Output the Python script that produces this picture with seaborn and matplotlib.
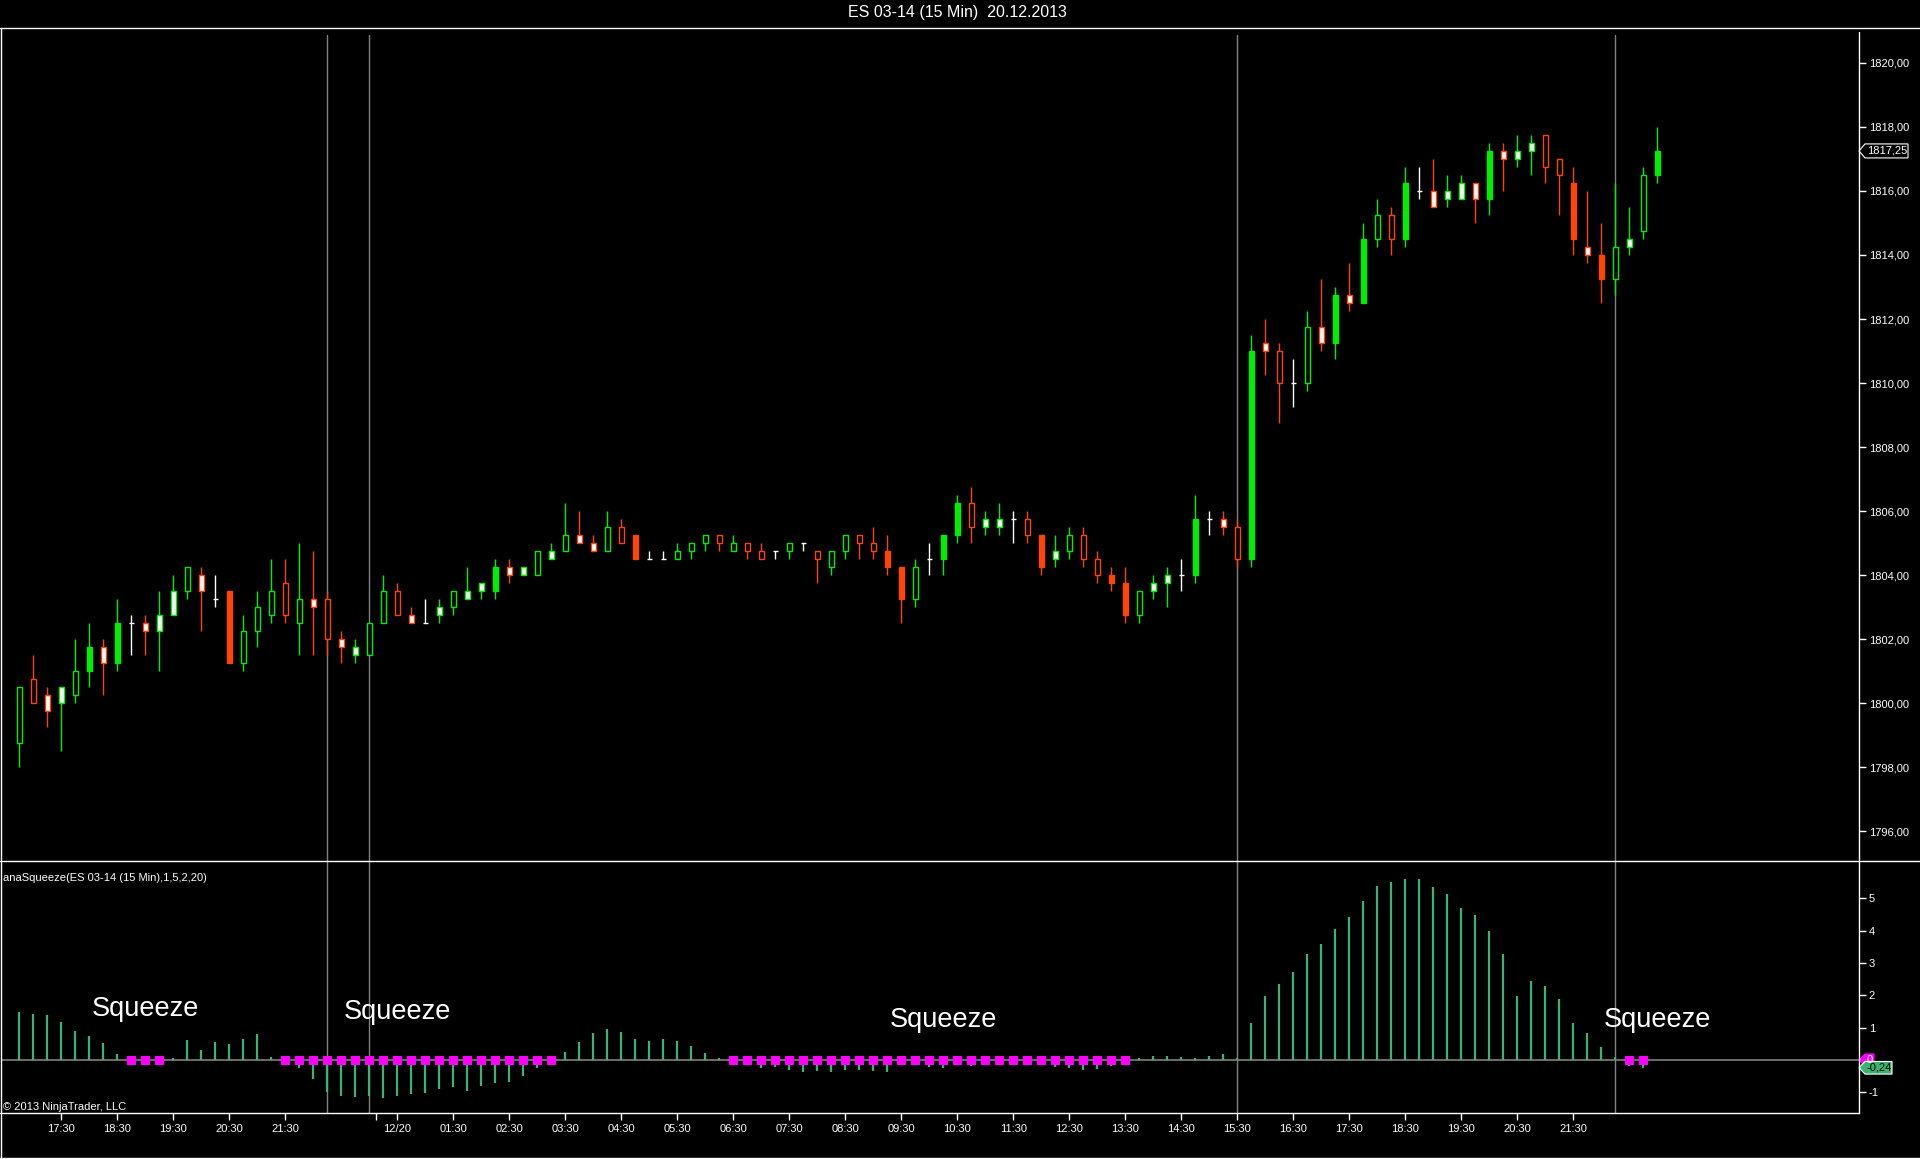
import matplotlib
matplotlib.use("Agg")
import matplotlib.pyplot as plt
from matplotlib.lines import Line2D
from matplotlib.patches import Polygon
from matplotlib.ticker import FuncFormatter
import numpy as np
import seaborn as sns

sns.set_theme(style="dark", rc={"axes.facecolor": "black", "figure.facecolor": "black"})
plt.rcParams["font.family"] = ["Liberation Sans", "DejaVu Sans"]

# --- ES 03-14 15 min bars ---
opens = [1798.75, 1800.75, 1800.25, 1800.0, 1800.25, 1801.0, 1801.75, 1801.25, 1802.5, 1802.5,
         1802.25, 1802.75, 1803.5, 1804.0, 1803.25, 1803.5, 1801.25, 1802.25, 1802.75, 1803.75,
         1802.5, 1803.25, 1803.25, 1802.0, 1801.5, 1801.5, 1802.5, 1803.5, 1802.75, 1802.5,
         1802.75, 1803.0, 1803.25, 1803.5, 1803.5, 1804.25, 1804.0, 1804.0, 1804.5, 1804.75,
         1805.25, 1805.0, 1804.75, 1805.5, 1805.25, 1804.5, 1804.5, 1804.5, 1804.75, 1805.0,
         1805.25, 1804.75, 1805.0, 1804.75, 1804.75, 1804.75, 1805.0, 1804.75, 1804.25, 1804.75,
         1805.25, 1805.0, 1804.75, 1804.25, 1803.25, 1804.5, 1804.5, 1805.25, 1806.25, 1805.5,
         1805.5, 1805.75, 1805.75, 1805.25, 1804.5, 1804.75, 1805.25, 1804.5, 1804.0, 1803.75,
         1802.75, 1803.5, 1803.75, 1804.0, 1804.0, 1805.75, 1805.75, 1805.5, 1804.5, 1811.25,
         1811.0, 1810.0, 1810.0, 1811.75, 1811.25, 1812.75, 1812.5, 1814.5, 1815.25, 1814.5,
         1816.0, 1816.0, 1815.75, 1815.75, 1816.25, 1815.75, 1817.25, 1817.0, 1817.25, 1817.75,
         1817.0, 1816.25, 1814.25, 1814.0, 1813.25, 1814.25, 1814.75, 1816.5]
highs = [1800.5, 1801.5, 1800.5, 1800.5, 1802.0, 1802.5, 1802.0, 1803.25, 1802.75, 1802.75,
         1803.5, 1804.0, 1804.25, 1804.25, 1804.0, 1803.5, 1802.75, 1803.5, 1804.5, 1804.5,
         1805.0, 1804.75, 1803.5, 1802.25, 1802.0, 1802.5, 1804.0, 1803.75, 1803.0, 1803.25,
         1803.25, 1803.5, 1804.25, 1803.75, 1804.5, 1804.5, 1804.25, 1804.75, 1805.0, 1806.25,
         1806.0, 1805.25, 1806.0, 1805.75, 1805.25, 1804.75, 1804.75, 1805.0, 1805.0, 1805.25,
         1805.25, 1805.25, 1805.0, 1805.0, 1804.75, 1805.0, 1805.0, 1804.75, 1804.75, 1805.25,
         1805.25, 1805.5, 1805.25, 1804.25, 1804.5, 1805.0, 1805.25, 1806.5, 1806.75, 1806.0,
         1806.25, 1806.0, 1806.0, 1805.25, 1805.25, 1805.5, 1805.5, 1804.75, 1804.25, 1804.25,
         1803.5, 1804.0, 1804.25, 1804.5, 1806.5, 1806.0, 1806.0, 1805.75, 1811.5, 1812.0,
         1811.25, 1810.75, 1812.25, 1813.25, 1813.0, 1813.75, 1815.0, 1815.75, 1815.5, 1816.75,
         1816.75, 1817.0, 1816.5, 1816.5, 1816.25, 1817.5, 1817.5, 1817.75, 1817.75, 1817.75,
         1817.0, 1816.75, 1816.0, 1815.0, 1816.25, 1815.5, 1816.75, 1818.0]
lows = [1798.0, 1800.0, 1799.25, 1798.5, 1800.0, 1800.5, 1800.25, 1801.0, 1801.5, 1801.5,
        1801.0, 1802.75, 1803.25, 1802.25, 1803.0, 1801.25, 1801.0, 1801.75, 1802.5, 1802.5,
        1801.5, 1801.5, 1801.5, 1801.25, 1801.25, 1801.5, 1802.5, 1802.75, 1802.5, 1802.5,
        1802.5, 1802.75, 1803.25, 1803.25, 1803.25, 1803.75, 1804.0, 1804.0, 1804.5, 1804.75,
        1805.0, 1804.75, 1804.75, 1805.0, 1804.5, 1804.5, 1804.5, 1804.5, 1804.5, 1804.75,
        1804.75, 1804.75, 1804.5, 1804.5, 1804.5, 1804.5, 1804.75, 1803.75, 1804.0, 1804.5,
        1804.5, 1804.5, 1804.0, 1802.5, 1803.0, 1804.0, 1804.0, 1805.0, 1805.0, 1805.25,
        1805.25, 1805.0, 1805.0, 1804.0, 1804.25, 1804.5, 1804.25, 1803.75, 1803.5, 1802.5,
        1802.5, 1803.25, 1803.0, 1803.5, 1803.75, 1805.25, 1805.25, 1804.25, 1804.25, 1810.25,
        1808.75, 1809.25, 1809.75, 1811.0, 1810.75, 1812.25, 1812.5, 1814.25, 1814.0, 1814.25,
        1815.75, 1815.5, 1815.5, 1815.75, 1815.0, 1815.25, 1816.0, 1816.75, 1816.5, 1816.25,
        1815.25, 1814.0, 1813.75, 1812.5, 1812.75, 1814.0, 1814.5, 1816.25]
closes = [1800.5, 1800.0, 1799.75, 1800.5, 1801.0, 1801.75, 1801.25, 1802.5, 1802.5, 1802.25,
          1802.75, 1803.5, 1804.25, 1803.5, 1803.25, 1801.25, 1802.25, 1803.0, 1803.5, 1802.75,
          1803.25, 1803.0, 1802.0, 1801.75, 1801.75, 1802.5, 1803.5, 1802.75, 1802.5, 1802.5,
          1803.0, 1803.5, 1803.5, 1803.75, 1804.25, 1804.0, 1804.25, 1804.75, 1804.75, 1805.25,
          1805.0, 1804.75, 1805.5, 1805.0, 1804.5, 1804.5, 1804.5, 1804.75, 1805.0, 1805.25,
          1805.0, 1805.0, 1804.75, 1804.5, 1804.75, 1805.0, 1805.0, 1804.5, 1804.75, 1805.25,
          1805.0, 1804.75, 1804.25, 1803.25, 1804.25, 1804.5, 1805.25, 1806.25, 1805.5, 1805.75,
          1805.75, 1805.75, 1805.25, 1804.25, 1804.75, 1805.25, 1804.5, 1804.0, 1803.75, 1802.75,
          1803.5, 1803.75, 1804.0, 1804.0, 1805.75, 1805.75, 1805.5, 1804.5, 1811.0, 1811.0,
          1810.0, 1810.0, 1811.75, 1811.25, 1812.75, 1812.5, 1814.5, 1815.25, 1814.5, 1816.25,
          1816.0, 1815.5, 1816.0, 1816.25, 1815.75, 1817.25, 1817.0, 1817.25, 1817.5, 1816.75,
          1816.5, 1814.5, 1814.0, 1813.25, 1814.25, 1814.5, 1816.5, 1817.25]
# body fill per bar: h = hollow, w = white, s = solid (10 bars per chunk)
fills = list("hhwwhswshw" "wwhwhshhhh" "hwhwwhhhwh" "whwwswwhwh" "wwhhshhhhh"
             "hhhhhhhhhh" "hhsshhsshw" "whhswhhhss" "hwwhshwhsw" "hhhwswshhs"
             "hwwwwswwwh" "hswshwhs")

# --- anaSqueeze histogram (last bar not yet calculated) ---
squeeze = [1.48, 1.42, 1.38, 1.17, 0.89, 0.74, 0.52, 0.18, 0.0, 0.0,
           0.0, 0.06, 0.62, 0.31, 0.55, 0.49, 0.65, 0.80, 0.09, 0.0,
           -0.25, -0.58, -0.98, -1.11, -1.14, -1.11, -1.17, -1.11, -1.05, -1.02,
           -0.89, -0.83, -0.95, -0.80, -0.71, -0.68, -0.49, -0.25, 0.0, 0.25,
           0.56, 0.84, 0.96, 0.87, 0.65, 0.59, 0.65, 0.59, 0.43, 0.22,
           0.06, 0.0, -0.02, -0.25, -0.22, -0.31, -0.37, -0.34, -0.37, -0.31,
           -0.31, -0.34, -0.37, -0.05, -0.15, -0.22, -0.25, -0.05, -0.19, 0.0,
           0.0, 0.0, 0.0, -0.12, -0.22, -0.25, -0.31, -0.28, -0.19, 0.0,
           0.06, 0.12, 0.12, 0.09, 0.06, 0.12, 0.19, 0.06, 1.14, 1.98,
           2.35, 2.72, 3.28, 3.59, 4.05, 4.42, 4.92, 5.38, 5.51, 5.60,
           5.60, 5.35, 5.13, 4.70, 4.48, 3.99, 3.28, 1.98, 2.44, 2.29,
           1.89, 1.14, 0.84, 0.40, 0.09, -0.20, -0.24]
squeeze_on = [0, 0, 0, 0, 0, 0, 0, 0, 1, 1, 1, 0, 0, 0, 0, 0, 0, 0, 0, 1,
              1, 1, 1, 1, 1, 1, 1, 1, 1, 1, 1, 1, 1, 1, 1, 1, 1, 1, 1, 0,
              0, 0, 0, 0, 0, 0, 0, 0, 0, 0, 0, 1, 1, 1, 1, 1, 1, 1, 1, 1,
              1, 1, 1, 1, 1, 1, 1, 1, 1, 1, 1, 1, 1, 1, 1, 1, 1, 1, 1, 1,
              0, 0, 0, 0, 0, 0, 0, 0, 0, 0, 0, 0, 0, 0, 0, 0, 0, 0, 0, 0,
              0, 0, 0, 0, 0, 0, 0, 0, 0, 0, 0, 0, 0, 0, 0, 1, 1]

# session lines, squeeze notes and time axis
session_bars = [22, 25, 87, 114]
note_bars = [9, 27, 66, 117]
note_levels = [1.57, 1.48, 1.23, 1.23]
tick_pos = [3, 7, 11, 15, 19, 27, 31, 35, 39, 43, 47, 51, 55, 59, 63, 67, 71, 75, 79,
            83, 87, 91, 95, 99, 103, 107, 111]
tick_labels = ["17:30", "18:30", "19:30", "20:30", "21:30", "12/20", "01:30", "02:30",
               "03:30", "04:30", "05:30", "06:30", "07:30", "08:30", "09:30", "10:30",
               "11:30", "12:30", "13:30", "14:30", "15:30", "16:30", "17:30", "18:30",
               "19:30", "20:30", "21:30"]
day_break = 25.5
price_ticks = list(range(1796, 1821, 2))
osc_ticks = [-1, 1, 2, 3, 4, 5]

GREEN = "#00ee00"
ORANGE = "#ff4500"
HIST = "#3cb371"
MAGENTA = "#ff00ff"
GREY = "#808080"

W, H = 1920, 1159
fig = plt.figure(figsize=(W / 100, H / 100), dpi=100)


def rect(x0, y0, x1, y1):
    return [x0 / W, 1 - y1 / H, (x1 - x0) / W, (y1 - y0) / H]


ax = fig.add_axes(rect(1, 28, 1859, 861))
ax2 = fig.add_axes(rect(1, 861, 1859, 1113), sharex=ax)
for a in (ax, ax2):
    a.set_facecolor("black")
    for s in a.spines.values():
        s.set_visible(False)
    a.grid(False)

x = np.arange(len(opens))
o = np.array(opens)
c = np.array(closes)
up = c > o
doji = c == o
edge = np.where(doji, "white", np.where(up, GREEN, ORANGE))

# wicks
ax.vlines(x, lows, highs, colors=edge, lw=1.0, zorder=2)
# bodies
body_face = []
for i in range(len(x)):
    if fills[i] == "w":
        body_face.append("white")
    elif fills[i] == "s":
        body_face.append(edge[i])
    else:
        body_face.append("black")
m = ~doji
ax.bar(x[m], np.abs(c - o)[m], bottom=np.minimum(o, c)[m], width=0.34,
       color=np.array(body_face)[m], edgecolor=edge[m], linewidth=1.0, zorder=3)
ax.hlines(c[doji], x[doji] - 0.2, x[doji] + 0.2, colors="white", lw=1.0, zorder=3)

ax.set_xlim(-1.31, 131.4)
ax.set_ylim(1795.07, 1821.09)
ax.set_yticks(price_ticks)
ax.yaxis.set_major_formatter(FuncFormatter(lambda v, p: f"{v:.2f}".replace(".", ",")))
ax.tick_params(axis="y", which="both", left=False, right=True, labelleft=False, labelright=True,
               colors="white", length=5, width=1, labelsize=8, pad=2)
ax.tick_params(axis="x", bottom=False, labelbottom=False)

for b in session_bars:
    ax.axvline(b, ymin=0, ymax=0.9916, color=GREY, lw=1.0, zorder=1)
    ax2.axvline(b, color=GREY, lw=1.0, zorder=1)

# oscillator panel
xs = np.arange(len(squeeze))
ax2.axhline(0, color=GREY, lw=1.2, zorder=1)
ax2.vlines(xs, 0, squeeze, colors=HIST, lw=1.6, zorder=2)
on = np.array(squeeze_on) == 1
sns.scatterplot(x=xs[on], y=np.zeros(on.sum()), ax=ax2, marker="s", s=26, color=MAGENTA,
                edgecolor=MAGENTA, linewidth=0.8, zorder=4, legend=False)
ax2.set_ylim(-1.64, 6.16)
ax2.set_yticks(osc_ticks)
ax2.set_yticklabels([str(t) for t in osc_ticks])
ax2.tick_params(axis="y", left=False, right=True, labelleft=False, labelright=True,
                colors="white", length=5, width=1, labelsize=8, pad=2)
ax2.set_xticks(tick_pos)
ax2.set_xticklabels(tick_labels)
ax2.set_xticks([day_break], minor=True)
ax2.tick_params(axis="x", which="both", bottom=True, colors="white", length=5, width=1,
                labelsize=8, pad=3)
ax2.set_xlabel("")
ax2.set_ylabel("")

for xb, lv in zip(note_bars, note_levels):
    ax2.text(xb, lv, "Squeeze", color="white", fontsize=19.5, ha="center", va="center", zorder=6)

ax2.text(2 / 1858, 0.933, "anaSqueeze(ES 03-14 (15 Min),1,5,2,20)", transform=ax2.transAxes,
         color="white", fontsize=8, ha="left", va="center")
ax2.text(2 / 1858, 0.024, "\u00a9 2013 NinjaTrader, LLC", transform=ax2.transAxes,
         color="white", fontsize=8, ha="left", va="center")


def tag(a, y, text, face, edgec, tcolor, width_px, half_px):
    lo, hi = a.get_ylim()
    ppu = a.get_window_extent().height / (hi - lo)
    wx = 1.0 / a.get_window_extent().width
    h = half_px / ppu
    pts = [(1.0, y), (1 + 6 * wx, y + h), (1 + width_px * wx, y + h),
           (1 + width_px * wx, y - h), (1 + 6 * wx, y - h)]
    a.add_patch(Polygon(pts, closed=True, transform=a.get_yaxis_transform(), facecolor=face,
                        edgecolor=edgec, lw=0.8, clip_on=False, zorder=7))
    a.text(1 + 8 * wx, y, text, transform=a.get_yaxis_transform(), color=tcolor, fontsize=8,
           ha="left", va="center", clip_on=False, zorder=8)


fig.canvas.draw()
tag(ax, closes[-1], f"{closes[-1]:.2f}".replace(".", ","), "black", "white", "white", 49, 7)
tag(ax2, 0, "0", MAGENTA, MAGENTA, "white", 15, 6)
tag(ax2, squeeze[-1], f"{squeeze[-1]:.2f}".replace(".", ","), HIST, "white", "black", 33, 6.3)


# frame lines
def fline(x0, y0, x1, y1):
    fig.add_artist(Line2D([x0 / W, x1 / W], [1 - y0 / H, 1 - y1 / H], transform=fig.transFigure,
                          color="white", lw=1.0))


fline(0, 28, W, 28)
fline(0, 861, W, 861)
fline(0, 1113, 1859, 1113)
fline(1859, 32, 1859, 1113)
fline(1, 28, 1, 1158)
fline(0, 1157.5, W, 1157.5)

fig.text(957 / W, 1 - 13 / H, "ES 03-14 (15 Min)  20.12.2013", color="white", fontsize=11.5,
         ha="center", va="center")

fig.savefig("out.png", dpi=100, facecolor="black")
